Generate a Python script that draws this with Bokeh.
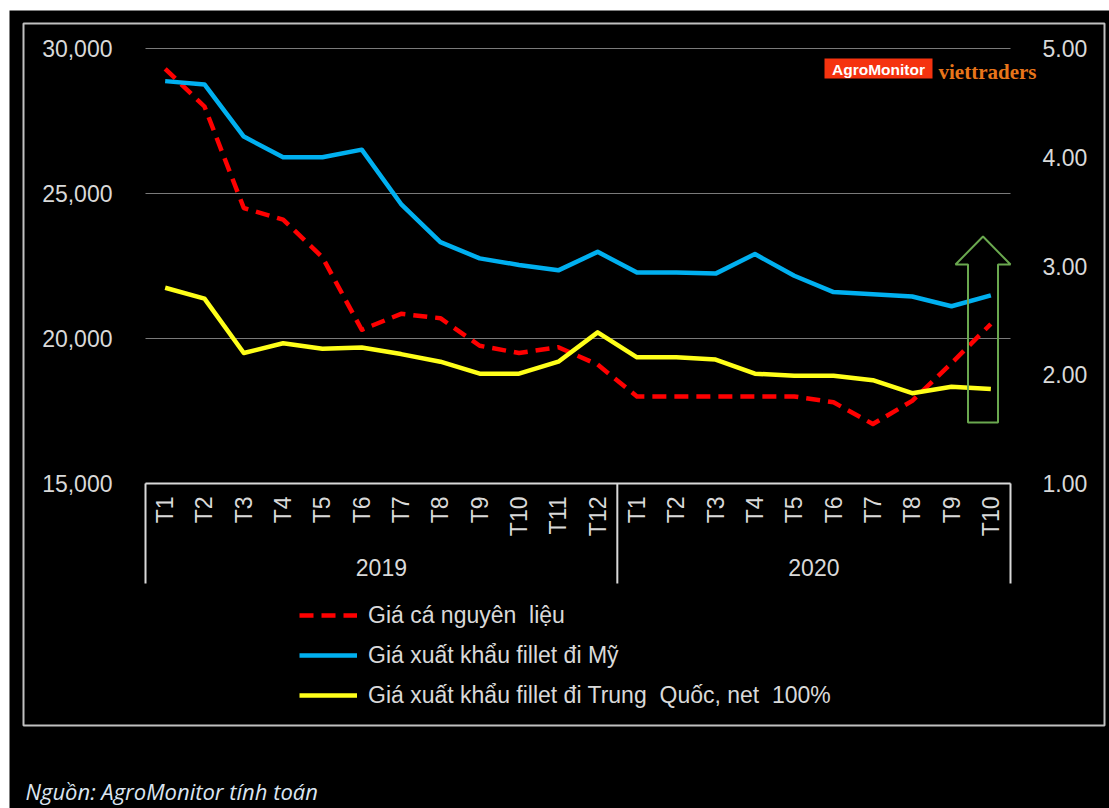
import math
from bokeh.plotting import figure
from bokeh.models import (Range1d, LinearAxis, FixedTicker, NumeralTickFormatter,
                          Legend, LegendItem, Label)
from bokeh.core.properties import value
from bokeh.embed import file_html
from bokeh.resources import INLINE

# ---------------- data ----------------
months = ["T1", "T2", "T3", "T4", "T5", "T6", "T7", "T8", "T9", "T10", "T11", "T12",
          "T1", "T2", "T3", "T4", "T5", "T6", "T7", "T8", "T9", "T10"]
year_labels = ["2019", "2020"]
months_per_year = [12, 10]

# Giá cá nguyên liệu (VND/kg, left axis)
gia_ca = [29300, 28000, 24500, 24100, 22800, 20300, 20850, 20700, 19750, 19500, 19700, 19100,
          18000, 18000, 18000, 18000, 18000, 17800, 17050, 17850, 19150, 20500]
# Giá xuất khẩu fillet đi Mỹ (USD/kg, right axis)
gia_my = [4.70, 4.67, 4.19, 4.00, 4.00, 4.07, 3.57, 3.22, 3.07, 3.01, 2.96, 3.13,
          2.94, 2.94, 2.93, 3.11, 2.91, 2.76, 2.74, 2.72, 2.63, 2.73]
# Giá xuất khẩu fillet đi Trung Quốc, net 100% (USD/kg, right axis)
gia_tq = [2.80, 2.70, 2.20, 2.29, 2.24, 2.25, 2.19, 2.12, 2.01, 2.01, 2.12, 2.39,
          2.16, 2.16, 2.14, 2.01, 1.99, 1.99, 1.95, 1.83, 1.89, 1.87]

left_ticks = [15000, 20000, 25000, 30000]
right_ticks = [1.0, 2.0, 3.0, 4.0, 5.0]

series_labels = ["Giá cá nguyên  liệu", "Giá xuất khẩu fillet đi Mỹ",
                 "Giá xuất khẩu fillet đi Trung  Quốc, net  100%"]
source_text = "Nguồn: AgroMonitor tính toán"

# ---------------- layout (page pixels) ----------------
M_L, M_T = 9, 10
W, H = 1100, 798
AX_L, AX_R = 145, 1010     # pixel columns of the category axis ends
PX_TOP, PX_BOT = 48, 483   # pixel rows of the top / bottom value ticks

n = len(months)

def px2x(px):
    return (px - AX_L) / (AX_R - AX_L) * n

def py2l(py):
    lo, hi = left_ticks[0], left_ticks[-1]
    return hi - (py - PX_TOP) * (hi - lo) / (PX_BOT - PX_TOP)

def py2r(py):
    lo, hi = right_ticks[0], right_ticks[-1]
    return hi - (py - PX_TOP) * (hi - lo) / (PX_BOT - PX_TOP)

FONT = "Liberation Sans"
TXT = "#d9d9d9"
AX_FS = "23px"

p = figure(width=W, height=H,
           x_range=Range1d(px2x(M_L), px2x(M_L + W)),
           y_range=Range1d(py2l(M_T + H), py2l(M_T)),
           x_axis_location=None, output_backend="svg", toolbar_location=None,
           min_border_left=0, min_border_right=0, min_border_top=0, min_border_bottom=0,
           background_fill_color="black", border_fill_color="black",
           outline_line_color=None, margin=(M_T, 0, 0, M_L))

# left axis (fixed at the left end of the category axis)
yax = p.yaxis[0]
yax.fixed_location = 0
yax.ticker = FixedTicker(ticks=left_ticks)
yax.formatter = NumeralTickFormatter(format="0,0")
yax.axis_line_color = None
yax.major_tick_line_color = None
yax.minor_tick_line_color = None
yax.major_label_standoff = 27
yax.major_label_text_color = TXT
yax.major_label_text_font = FONT
yax.major_label_text_font_size = AX_FS
p.grid.visible = False

# right axis
p.extra_y_ranges = {"r": Range1d(py2r(M_T + H), py2r(M_T))}
rax = LinearAxis(y_range_name="r", ticker=FixedTicker(ticks=right_ticks),
                 formatter=NumeralTickFormatter(format="0.00"), fixed_location=n)
rax.axis_line_color = None
rax.major_tick_line_color = None
rax.minor_tick_line_color = None
rax.major_label_standoff = 26
rax.major_label_text_color = TXT
rax.major_label_text_font = FONT
rax.major_label_text_font_size = AX_FS
p.add_layout(rax, "right")

# outer border
p.quad(left=[px2x(23)], right=[px2x(1104)], top=[py2l(23)], bottom=[py2l(725)],
       fill_alpha=0, line_color="#c0c0c0", line_width=2)

# horizontal grid lines
p.segment(x0=[0] * len(left_ticks), y0=left_ticks, x1=[n] * len(left_ticks), y1=left_ticks,
          line_color="#7a7a7a", line_width=1.2)

# category axis box
xs = [i + 0.5 for i in range(n)]
bounds = [0]
for k in months_per_year:
    bounds.append(bounds[-1] + k)
y_box_bot = py2l(583)
p.segment(x0=[0], y0=[left_ticks[0]], x1=[n], y1=[left_ticks[0]],
          line_color=TXT, line_width=2)
p.segment(x0=bounds, y0=[left_ticks[0]] * len(bounds), x1=bounds,
          y1=[y_box_bot] * len(bounds), line_color=TXT, line_width=2)
p.text(x=xs, y=[py2l(496)] * n, text=months, angle=math.pi / 2,
       text_align="right", text_baseline="middle", text_color=TXT,
       text_font=value(FONT), text_font_size=AX_FS)
year_x = [(bounds[i] + bounds[i + 1]) / 2 for i in range(len(year_labels))]
p.text(x=year_x, y=[py2l(567)] * len(year_x), text=year_labels,
       text_align="center", text_baseline="middle", text_color=TXT,
       text_font=value(FONT), text_font_size=AX_FS)

# series
r1 = p.line(xs, gia_ca, line_color="#ff0000", line_width=4.5, line_dash="14 8",
            line_join="round")
r2 = p.line(xs, gia_my, y_range_name="r", line_color="#00b0f0", line_width=4.5,
            line_join="round")
r3 = p.line(xs, gia_tq, y_range_name="r", line_color="#ffff1a", line_width=4.5,
            line_join="round")

# green arrow annotation
ax_c = px2x(982.5)
ax_sw = px2x(997.5) - ax_c
ax_hw = px2x(1010) - ax_c
a_tip, a_base, a_bot = py2r(236), py2r(264), py2r(422)
p.patch(x=[ax_c, ax_c + ax_hw, ax_c + ax_sw, ax_c + ax_sw, ax_c - ax_sw, ax_c - ax_sw, ax_c - ax_hw, ax_c],
        y=[a_tip, a_base, a_base, a_bot, a_bot, a_base, a_base, a_tip],
        y_range_name="r", fill_alpha=0, line_color="#6aa84f", line_width=2)

# logo
p.quad(left=[px2x(824)], right=[px2x(932)], top=[py2l(58)], bottom=[py2l(78)],
       fill_color="#f5330f", line_color=None)
p.text(x=[px2x(878)], y=[py2l(68.5)], text=["AgroMonitor"], text_align="center",
       text_baseline="middle", text_color="white", text_font=value(FONT),
       text_font_style="bold", text_font_size="15.5px")
p.add_layout(Label(x=px2x(938), y=py2l(71.5), text="viettraders",
                   text_font="Liberation Serif", text_font_style="bold",
                   text_font_size="21px", text_color="#e8751a",
                   text_baseline="alphabetic"))

# legend
legend = Legend(items=[LegendItem(label=series_labels[0], renderers=[r1]),
                       LegendItem(label=series_labels[1], renderers=[r2]),
                       LegendItem(label=series_labels[2], renderers=[r3])],
                location=(299 - M_L, M_T + H - 715), orientation="vertical",
                background_fill_alpha=0, border_line_color=None,
                padding=0, margin=0, spacing=0,
                glyph_width=58, glyph_height=40, label_height=40,
                label_standoff=11, label_text_font=FONT,
                label_text_font_size="23px", label_text_color=TXT)
p.add_layout(legend)

# source
p.add_layout(Label(x=px2x(25), y=py2l(790), text=source_text,
                   text_font="Open Sans", text_font_style="italic",
                   text_font_size="22px", text_color="#dbe5f1",
                   text_baseline="middle"))

open("out.html", "w").write(file_html(p, INLINE))
